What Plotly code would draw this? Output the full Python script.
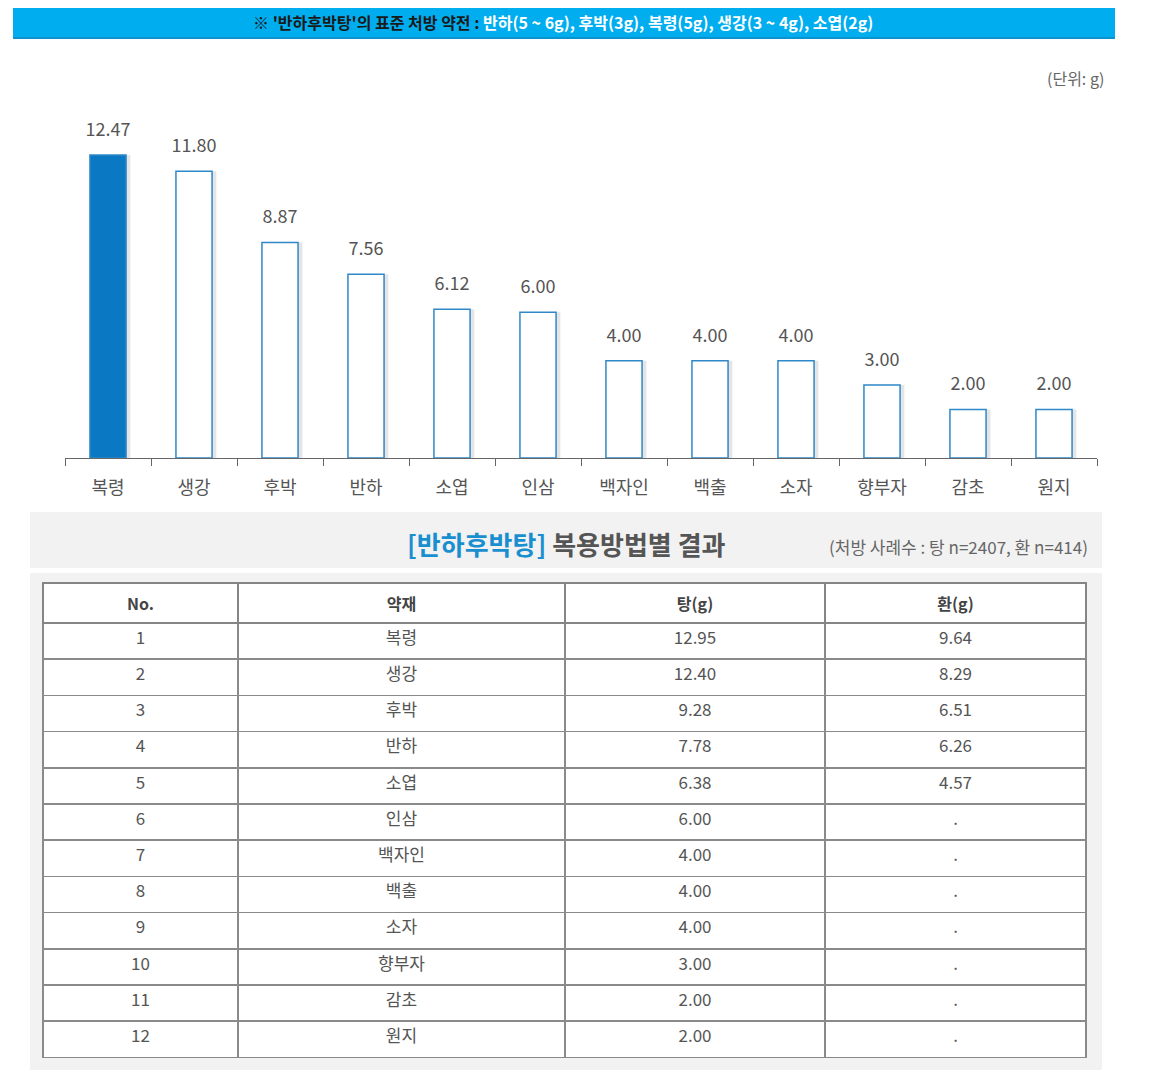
import plotly.graph_objects as go

# ---- data ----
herbs = ["복령", "생강", "후박", "반하", "소엽", "인삼", "백자인", "백출", "소자", "향부자", "감초", "원지"]
avg_values = [12.47, 11.80, 8.87, 7.56, 6.12, 6.00, 4.00, 4.00, 4.00, 3.00, 2.00, 2.00]
tang_values = ["12.95", "12.40", "9.28", "7.78", "6.38", "6.00", "4.00", "4.00", "4.00", "3.00", "2.00", "2.00"]
hwan_values = ["9.64", "8.29", "6.51", "6.26", "4.57", ".", ".", ".", ".", ".", ".", "."]
row_numbers = [str(i) for i in range(1, 13)]
table_headers = ["No.", "약재", "탕(g)", "환(g)"]

OFF = 8  # page body margin
W, H = 1172 - OFF, 1081 - OFF
FONT = "Noto Sans CJK KR"
GRAY = "#555555"

def px(x):
    return (x - OFF) / W

def py(y):
    return 1 - (y - OFF) / H

fig = go.Figure()

bar_w = 0.42
fills = ["#0a78c2"] + ["#ffffff"] * (len(herbs) - 1)

# shadow
fig.add_trace(go.Bar(
    x=herbs, y=avg_values, width=bar_w, offset=-bar_w / 2 + 0.05,
    marker=dict(color="rgba(0,0,0,0.10)", line=dict(width=0)),
    hoverinfo="skip", showlegend=False,
))
# bars
fig.add_trace(go.Bar(
    x=herbs, y=avg_values, width=bar_w, offset=-bar_w / 2,
    marker=dict(color=fills, line=dict(color="#2f88c8", width=1.5)),
    showlegend=False,
))
# value labels
fig.add_trace(go.Scatter(
    x=herbs, y=avg_values, mode="markers+text",
    marker=dict(size=22, color="rgba(0,0,0,0)"),
    text=[f"{v:.2f}" for v in avg_values], textposition="top center",
    textfont=dict(family=FONT, size=18, color=GRAY),
    cliponaxis=False, showlegend=False, hoverinfo="skip",
))

# table
fig.add_trace(go.Table(
    domain=dict(x=[px(43), px(1086)], y=[py(1058), py(583)]),
    columnwidth=[195, 327, 260, 261],
    header=dict(
        values=[f"<b>{h}</b>" for h in table_headers],
        fill_color="white", line=dict(color="#858585", width=2),
        font=dict(family=FONT, size=16, color="#444444"),
        align="center", height=28,
    ),
    cells=dict(
        values=[row_numbers, herbs, tang_values, hwan_values],
        fill_color="white", line=dict(color="#8a8a8a", width=1.5),
        font=dict(family=FONT, size=17, color=GRAY),
        align="center", height=36.2,
    ),
))

ymax = (458 - 100) / 24.3
fig.update_layout(
    width=W, height=H, margin=dict(l=0, r=0, t=0, b=0),
    paper_bgcolor="white", plot_bgcolor="white",
    barmode="overlay", bargap=0.5,
    font=dict(family=FONT, color=GRAY),
    xaxis=dict(
        domain=[px(65), px(1097)], type="category", tickson="boundaries",
        ticks="outside", ticklen=7, tickcolor="#666", showline=True,
        linecolor="#666", linewidth=1, showgrid=False, zeroline=False,
        tickfont=dict(family=FONT, size=18, color=GRAY), fixedrange=True,
        ticklabelstandoff=13,
        range=[-0.5, len(herbs) - 0.5],
    ),
    yaxis=dict(
        domain=[py(458), py(100)], range=[0, ymax], visible=False,
        showgrid=False, zeroline=False, fixedrange=True,
    ),
    shapes=[
        dict(type="rect", xref="paper", yref="paper", x0=px(13), x1=px(1115),
             y0=py(38), y1=py(6), fillcolor="#00aeef", line=dict(width=0), layer="below"),
        dict(type="line", xref="paper", yref="paper", x0=px(13), x1=px(1115),
             y0=py(38), y1=py(38), line=dict(color="#0a94cf", width=2)),
        dict(type="rect", xref="paper", yref="paper", x0=px(30), x1=px(1102),
             y0=py(568), y1=py(512), fillcolor="#f2f2f2", line=dict(width=0), layer="below"),
        dict(type="rect", xref="paper", yref="paper", x0=px(30), x1=px(1102),
             y0=py(1070), y1=py(573), fillcolor="#f2f2f2", line=dict(width=0), layer="below"),
    ],
    annotations=[
        dict(xref="paper", yref="paper", x=px(563), y=py(22), xanchor="center", yanchor="middle",
             showarrow=False, font=dict(family=FONT, size=16, color="#ffffff"),
             text="<b><span style='color:#1a1a1a'>※ '반하후박탕'의 표준 처방 약전 : </span>"
                  "반하(5 ~ 6g), 후박(3g), 복령(5g), 생강(3 ~ 4g), 소엽(2g)</b>"),
        dict(xref="paper", yref="paper", x=px(1106), y=py(78), xanchor="right", yanchor="middle",
             showarrow=False, font=dict(family=FONT, size=16, color="#666666"),
             text="(단위: g)"),
        dict(xref="paper", yref="paper", x=px(566), y=py(543), xanchor="center", yanchor="middle",
             showarrow=False, font=dict(family=FONT, size=26, color="#555555"),
             text="<b><span style='color:#1a8fd0'>[반하후박탕]</span> 복용방법별 결과</b>"),
        dict(xref="paper", yref="paper", x=px(1090), y=py(546), xanchor="right", yanchor="middle",
             showarrow=False, font=dict(family=FONT, size=17, color="#666666"),
             text="(처방 사례수 : 탕 n=2407, 환 n=414)"),
    ],
)

fig.write_html("out.html")
